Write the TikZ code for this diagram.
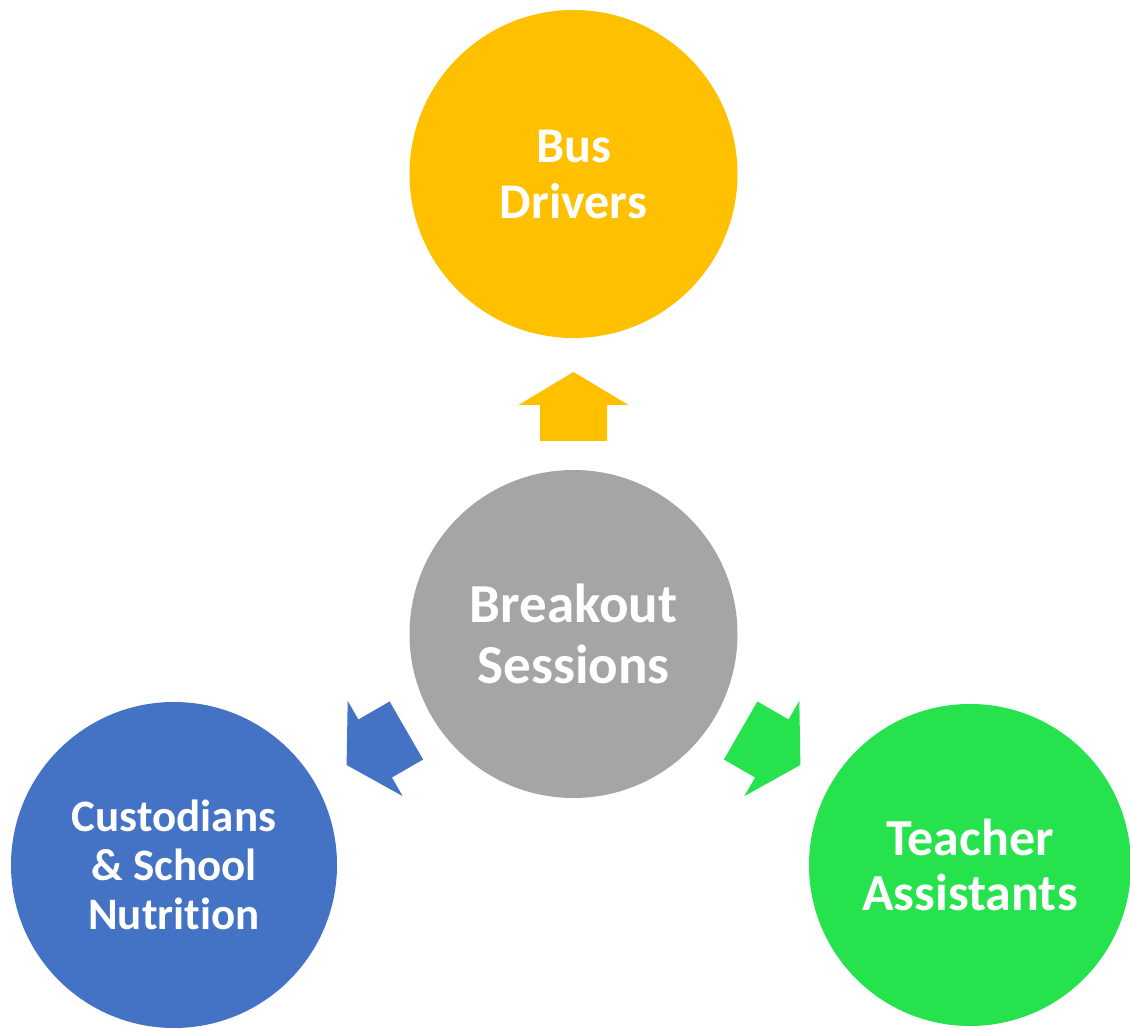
\documentclass[tikz,border=0pt]{standalone}
\usepackage{fontspec}
\setmainfont{Carlito}[Ligatures={NoCommon,NoRare}]
\definecolor{cyellow}{RGB}{255,192,0}
\definecolor{cgray}{RGB}{165,165,165}
\definecolor{cblue}{RGB}{68,114,196}
\definecolor{cgreen}{RGB}{38,226,76}
\tikzset{
  disc/.style={circle, minimum size=#1, inner sep=0pt, outer sep=0pt, text=white, align=center, font=\bfseries}
}
\newcommand{\blockarr}[3]{%
  \begin{scope}[shift={(#1)}, rotate=#2]
    \fill[#3] (193,-33.5) -- (229,-33.5) -- (229,-55) -- (262,0) -- (229,55) -- (229,33.5) -- (193,33.5) -- cycle;
  \end{scope}}
\begin{document}
\begin{tikzpicture}[x=1pt,y=1pt]
\fill[white] (0,0) rectangle (1130,1030);
\useasboundingbox (0,0) rectangle (1130,1030);
\node[disc=328pt, fill=cyellow, font=\bfseries\fontsize{50}{56}\selectfont] (bus) at (573.5,856) {Bus\\Drivers};
\node[disc=328pt, fill=cgray, font=\bfseries\fontsize{55}{61}\selectfont] (c) at (573.5,396) {Breakout\\Sessions};
\node[disc=326pt, fill=cblue, font=\bfseries\fontsize{45}{49}\selectfont] (cust) at (174,165) {Custodians\\\& School\\Nutrition};
\node[disc=322pt, fill=cgreen, font=\bfseries\fontsize{52}{55}\selectfont] (ta) at (970,165) {Teacher\\Assistants};
\blockarr{c.center}{90}{cyellow}
\blockarr{c.center}{210}{cblue}
\blockarr{c.center}{-30}{cgreen}
\end{tikzpicture}
\end{document}
